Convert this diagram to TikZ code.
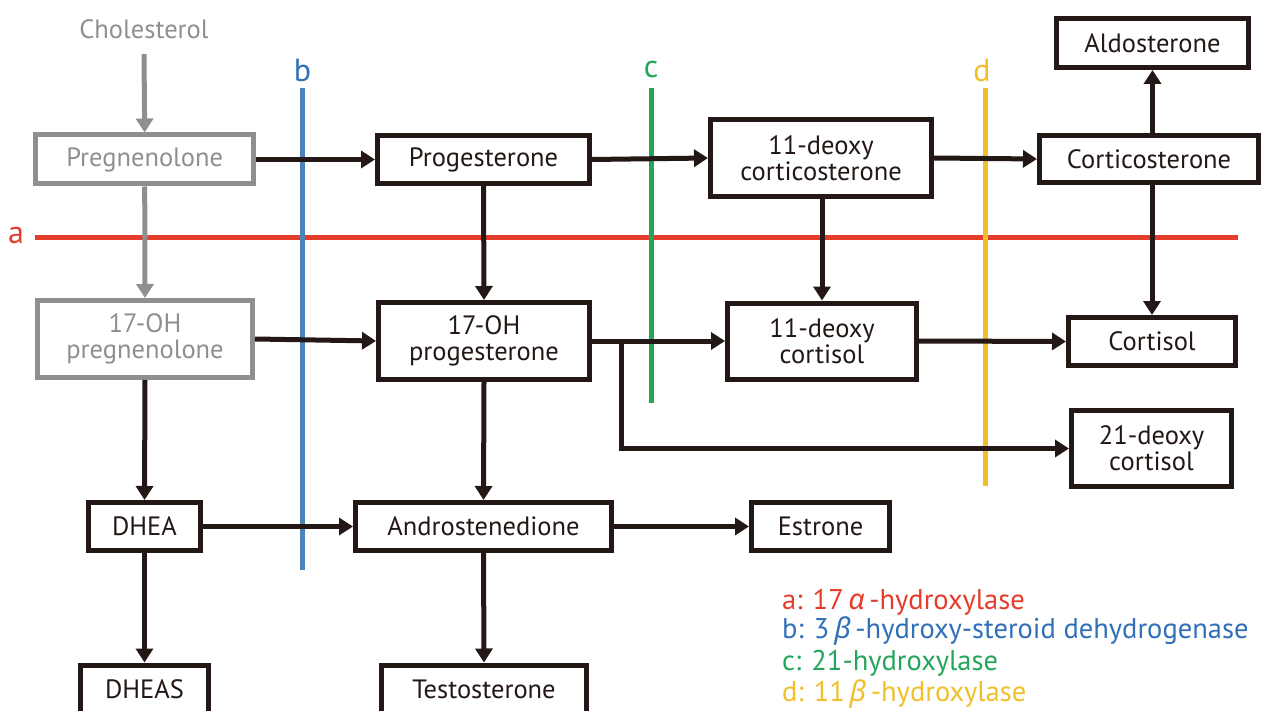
\documentclass[tikz,border=0pt]{standalone}
\usepackage{fontspec}
\setmainfont{PT Sans}
\newfontfamily\grk{Noto Sans}
\usetikzlibrary{arrows.meta,calc}
\definecolor{ink}{HTML}{231815}
\definecolor{gry}{HTML}{8F8F8F}
\definecolor{cA}{HTML}{E63C2C}
\definecolor{cB}{HTML}{4C84B8}
\definecolor{cBt}{HTML}{3070B8}
\definecolor{cC}{HTML}{25A55C}
\definecolor{cD}{HTML}{EFC02A}
\tikzset{
  box/.style={draw=ink, text=ink, line width=5pt, inner sep=0pt, align=center,
    font=\fontsize{26.5}{26}\selectfont},
  gbox/.style={box, draw=gry, text=gry},
  arr/.style={draw=ink, line width=5pt, -{Triangle[length=14pt,width=17pt]}},
  garr/.style={arr, draw=gry, -{Triangle[length=14pt,width=17pt]}, color=gry},
  enz/.style={line width=5pt},
  enzlbl/.style={font=\fontsize{32}{34}\selectfont, inner sep=0pt},
  leg/.style={font=\fontsize{28.5}{30}\selectfont, anchor=west, inner sep=0pt}
}
\begin{document}
\begin{tikzpicture}[x=1pt,y=-1pt]
\useasboundingbox (0,0) rectangle (1263,711);
\fill[white] (0,0) rectangle (1263,711);

% nodes
\node[text=gry, font=\fontsize{26.5}{26}\selectfont] (chol) at (144,29) {Cholesterol};
\node[gbox, minimum width=218pt, minimum height=49pt] (preg) at (144.7,159.5) {Pregnenolone};
\node[box, minimum width=212pt, minimum height=48pt] (prog) at (483.5,159.5) {Progesterone};
\node[box, minimum width=221pt, minimum height=77pt] (doc) at (821,158) {11-deoxy\\corticosterone};
\node[box, minimum width=219pt, minimum height=47pt] (cortico) at (1149,159) {Corticosterone};
\node[box, minimum width=192pt, minimum height=49pt] (aldo) at (1152.5,43) {Aldosterone};
\node[gbox, minimum width=215pt, minimum height=77pt] (ohpreg) at (145,339) {17-OH\\pregnenolone};
\node[box, minimum width=211pt, minimum height=77pt] (ohprog) at (484,341) {17-OH\\progesterone};
\node[box, minimum width=189pt, minimum height=76pt] (dc) at (822,341) {11-deoxy\\cortisol};
\node[box, minimum width=167pt, minimum height=48pt] (cortisol) at (1152,341.5) {Cortisol};
\node[box, minimum width=160pt, minimum height=76pt] (tdc) at (1151.5,448.5) {21-deoxy\\cortisol};
\node[box, minimum width=112pt, minimum height=48pt] (dhea) at (144.5,526.5) {DHEA};
\node[box, minimum width=256pt, minimum height=48pt] (andro) at (483.5,526.5) {Androstenedione};
\node[box, minimum width=138pt, minimum height=48pt] (estrone) at (820.5,526.5) {Estrone};
\node[box, minimum width=128pt, minimum height=48pt] (dheas) at (144.5,689) {DHEAS};
\node[box, minimum width=205pt, minimum height=48pt] (testo) at (484,689) {Testosterone};

% enzyme block lines
\draw[enz, cA] (35,238) -- (1238,238);
\node[enzlbl, text=cA] (la) at (16,236) {a};
\draw[enz, cB] (302.5,88) -- (302.5,570);
\node[enzlbl, text=cBt] (lb) at (302.5,70) {b};
\draw[enz, cC] (651,88) -- (651,403);
\node[enzlbl, text=cC] (lc) at (651,70) {c};
\draw[enz, cD] (985.5,88) -- (985.5,486);
\node[enzlbl, text=cD] (ld) at (982,70) {d};

% arrows
\draw[garr] ($(chol.south)+(0,12)$) -- (preg.north);
\draw[garr] (preg.south) -- (ohpreg.north);
\draw[arr] (preg.east) -- (prog.west);
\draw[arr] (prog.east) -- (doc.west);
\draw[arr] (doc.east) -- (cortico.west);
\draw[arr] (aldo.south |- cortico.north) -- (aldo.south);
\draw[arr] (cortisol.north |- cortico.south) -- (cortisol.north);
\draw[arr] (dc.north |- doc.south) -- (dc.north);
\draw[arr] (prog.south) -- (ohprog.north);
\draw[arr] (ohpreg.east) -- (ohprog.west);
\draw[arr] (ohprog.east) -- (dc.west);
\draw[arr] (dc.east) -- (cortisol.west);
\coordinate (br) at (621,341);
\draw[arr] (br) |- (tdc.west);
\draw[arr] (ohpreg.south) -- (dhea.north);
\draw[arr] (ohprog.south) -- (andro.north);
\draw[arr] (dhea.east) -- (andro.west);
\draw[arr] (andro.east) -- (estrone.west);
\draw[arr] (dhea.south) -- (dheas.north);
\draw[arr] (andro.south) -- (testo.north);

% legend
\node[leg, text=cA] (l1) at (782,602) {a: 17\,{\grk\itshape α}\,-hydroxylase};
\node[leg, text=cBt] (l2) at (782,631) {b: 3\,{\grk\itshape β}\,-hydroxy-steroid dehydrogenase};
\node[leg, text=cC] (l3) at (782,663) {c: 21-hydroxylase};
\node[leg, text=cD] (l4) at (782,694) {d: 11\,{\grk\itshape β}\,-hydroxylase};
\end{tikzpicture}
\end{document}
